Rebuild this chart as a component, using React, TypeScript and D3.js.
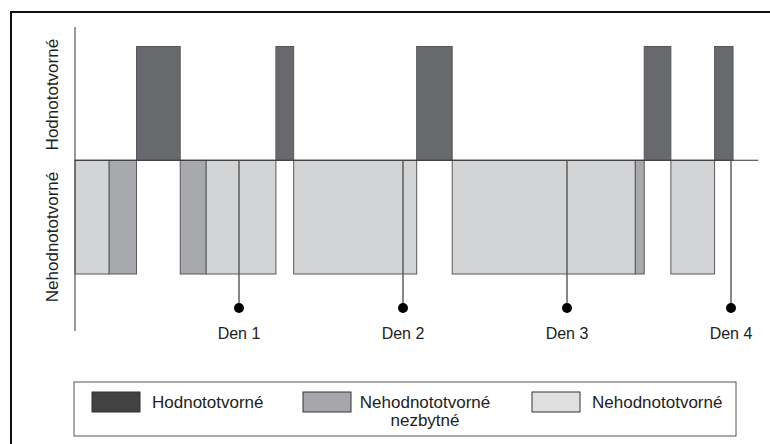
import React from "react";
import * as d3 from "d3";

// ---- data (time in hours) ----
const categories = ["Hodnototvorné", "Nehodnototvorné nezbytné", "Nehodnototvorné"];
const segStart = [0, 5, 9, 15.4, 19.2, 29.4, 32, 50, 55.2, 82, 83.3, 87.2, 93.6];
const segEnd = [5, 9, 15.4, 19.2, 29.4, 32, 50, 55.2, 82, 83.3, 87.2, 93.6, 96.3];
const segType = [2, 1, 0, 1, 2, 0, 2, 0, 2, 1, 0, 2, 0];
const dayLabels = ["Den 1", "Den 2", "Den 3", "Den 4"];
const dayHours = [24, 48, 72, 96];
const axisTitles = ["Hodnototvorné", "Nehodnototvorné"];

const barFill = ["#68696d", "#a8a9ac", "#d3d4d6"];
const swatchFill = ["#424244", "#a6a7aa", "#dfe0e2"];

export default function App() {
  const W = 770, H = 444;
  const x = d3.scaleLinear().domain([0, 96]).range([75, 731]);
  const y = d3.scaleLinear().domain([-1, 1]).range([274, 46.5]);
  const font = "'Liberation Sans', Arial, sans-serif";
  const y0 = y(0);

  const legendX = [92, 303, 532];

  return (
    <svg width={W} height={H} style={{ position: "absolute", left: 0, top: 0, background: "#fff" }} fontFamily={font}>
      <rect x={11} y={12} width={800} height={500} fill="none" stroke="#111" strokeWidth={2} />
      {/* bars */}
      {segStart.map((s, i) => {
        const t = segType[i];
        const top = t === 0 ? y(1) : y0;
        const bot = t === 0 ? y0 : y(-1);
        return (
          <rect key={i} x={x(s)} y={top} width={x(segEnd[i]) - x(s)} height={bot - top}
            fill={barFill[t]} stroke="#58595c" strokeWidth={1} />
        );
      })}
      {/* axes */}
      <line x1={x(0)} x2={x(0)} y1={27} y2={331} stroke="#555" strokeWidth={1.2} />
      <line x1={x(0)} x2={x(100)} y1={y0} y2={y0} stroke="#333" strokeWidth={1} />
      {/* day markers */}
      {dayHours.map((h, i) => (
        <g key={i}>
          <line x1={x(h)} x2={x(h)} y1={y0} y2={308} stroke="#555" strokeWidth={1.4} />
          <circle cx={x(h)} cy={308} r={5} fill="#000" />
          <text x={x(h)} y={339} textAnchor="middle" fontSize={16} fill="#222">{dayLabels[i]}</text>
        </g>
      ))}
      {/* axis titles */}
      <text transform={`translate(54,${(27 + y0) / 2 + 1}) rotate(-90)`} textAnchor="middle"
        dominantBaseline="middle" fontSize={17} fill="#222">{axisTitles[0]}</text>
      <text transform={`translate(54,237) rotate(-90)`} textAnchor="middle"
        dominantBaseline="middle" fontSize={17} fill="#222">{axisTitles[1]}</text>
      {/* legend */}
      <rect x={74} y={382} width={662} height={54} fill="#fff" stroke="#555" strokeWidth={1} />
      {categories.map((c, i) => (
        <g key={i}>
          <rect x={legendX[i]} y={392} width={48} height={20} fill={swatchFill[i]} stroke="#333" strokeWidth={1} />
          {i === 1 ? (
            <text x={425} y={407.5} textAnchor="middle" fontSize={17} fill="#222">
              <tspan x={425}>Nehodnototvorné</tspan>
              <tspan x={425} dy={18}>nezbytné</tspan>
            </text>
          ) : (
            <text x={legendX[i] + 60} y={407.5} fontSize={17} fill="#222">{c}</text>
          )}
        </g>
      ))}
    </svg>
  );
}
